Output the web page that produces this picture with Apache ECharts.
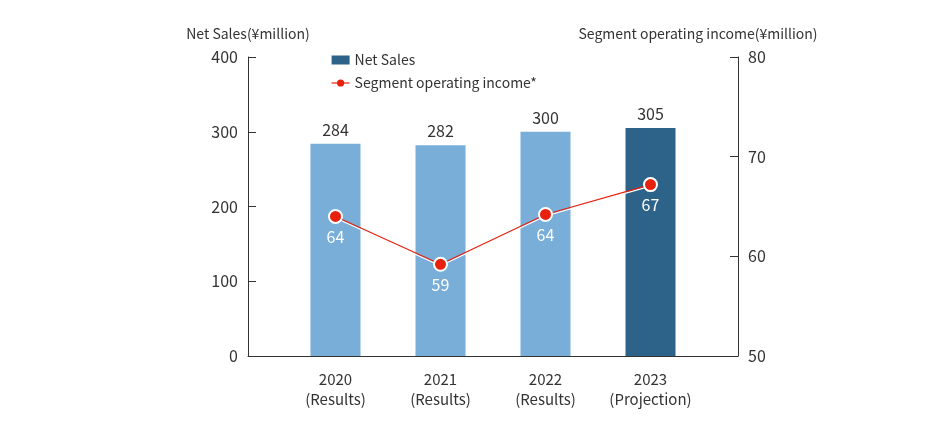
<!DOCTYPE html>
<html><head><meta charset="utf-8">
<script src="https://cdn.jsdelivr.net/npm/echarts@6/dist/echarts.min.js"></script>
<style>html,body{margin:0;padding:0;background:#fff}#c{width:930px;height:430px}</style>
</head><body><div id="c"></div>
<script>
const categories = ['2020\n(Results)', '2021\n(Results)', '2022\n(Results)', '2023\n(Projection)'];
const netSales = [284, 282, 300, 305];
const segmentIncome = [64.0, 59.2, 64.2, 67.2];
const leftTicks = [0, 100, 200, 300, 400];
const rightTicks = [50, 60, 70, 80];

const FONT = '"Noto Sans CJK JP", "Noto Sans", sans-serif';
const TXT = '#333';
const RED = '#e8200e';
const chart = echarts.init(document.getElementById('c'));
chart.setOption({
  animation: false,
  textStyle: { fontFamily: FONT },
  legend: {
    orient: 'vertical', left: 326, top: 48, itemGap: 9,
    itemWidth: 18, itemHeight: 9,
    textStyle: { fontSize: 14, color: TXT, fontFamily: FONT },
    itemStyle: { borderWidth: 0 },
    lineStyle: { color: RED, width: 1.2, shadowOffsetY: 0, shadowBlur: 0, shadowColor: 'transparent', type: 'solid' },
    data: [
      { name: 'Net Sales', icon: 'rect' },
      { name: 'Segment operating income*' }
    ]
  },
  grid: [
    { left: 283, right: 227, top: 57, bottom: 74 },
    { left: 248, right: 192, top: 57, bottom: 74 }
  ],
  xAxis: [
    {
      type: 'category', gridIndex: 0, data: categories,
      axisLine: { show: false }, axisTick: { show: false },
      axisLabel: { interval: 0, color: TXT, fontSize: 15, lineHeight: 20, margin: 13, fontFamily: FONT }
    },
    {
      type: 'value', gridIndex: 1, min: 0, max: 1,
      axisLine: { show: true, lineStyle: { color: '#333', width: 1 } },
      axisTick: { show: false }, axisLabel: { show: false }, splitLine: { show: false }
    }
  ],
  yAxis: [
    {
      type: 'value', gridIndex: 0, min: leftTicks[0], max: leftTicks[leftTicks.length - 1], interval: 100,
      offset: 35,
      name: 'Net Sales(¥million)', nameLocation: 'end', nameGap: 16,
      nameTextStyle: { color: TXT, fontSize: 14, align: 'center', fontFamily: FONT },
      axisLine: { show: true, lineStyle: { color: '#333', width: 1 } },
      axisTick: { show: true, inside: true, length: 8, lineStyle: { color: '#333' } },
      axisLabel: { color: TXT, fontSize: 16, margin: 10, fontFamily: FONT },
      splitLine: { show: false }
    },
    {
      type: 'value', gridIndex: 0, position: 'right', min: rightTicks[0], max: rightTicks[rightTicks.length - 1], interval: 10,
      offset: 35,
      name: 'Segment operating income(¥million)', nameLocation: 'end', nameGap: 16,
      nameTextStyle: { color: TXT, fontSize: 14, align: 'center', padding: [0, 80, 0, 0], fontFamily: FONT },
      axisLine: { show: true, lineStyle: { color: '#333', width: 1 } },
      axisTick: { show: true, inside: true, length: 8, lineStyle: { color: '#333' } },
      axisLabel: { color: TXT, fontSize: 16, margin: 10, fontFamily: FONT },
      splitLine: { show: false }
    },
    { type: 'value', gridIndex: 1, show: false }
  ],
  series: [
    {
      name: 'Net Sales', type: 'bar', xAxisIndex: 0, yAxisIndex: 0, barWidth: 50,
      itemStyle: { color: '#2e6389' },
      data: netSales.map((v, i) => i < 3 ? { value: v, itemStyle: { color: '#78aed8' } } : v),
      label: { show: true, position: 'top', distance: 6, color: TXT, fontSize: 16, fontFamily: FONT },
      z: 1
    },
    {
      name: 'Segment operating income*', type: 'line', xAxisIndex: 0, yAxisIndex: 1,
      data: segmentIncome,
      symbol: 'circle', symbolSize: 13,
      lineStyle: { color: RED, width: 1.2, shadowColor: '#fff', shadowBlur: 0, shadowOffsetY: 1.5 },
      itemStyle: { color: RED, borderColor: '#fff', borderWidth: 2 },
      label: { show: true, position: 'bottom', distance: 5, color: '#fff', fontSize: 16, fontFamily: FONT,
        formatter: p => Math.round(p.value) },
      z: 3
    }
  ]
});
</script></body></html>
